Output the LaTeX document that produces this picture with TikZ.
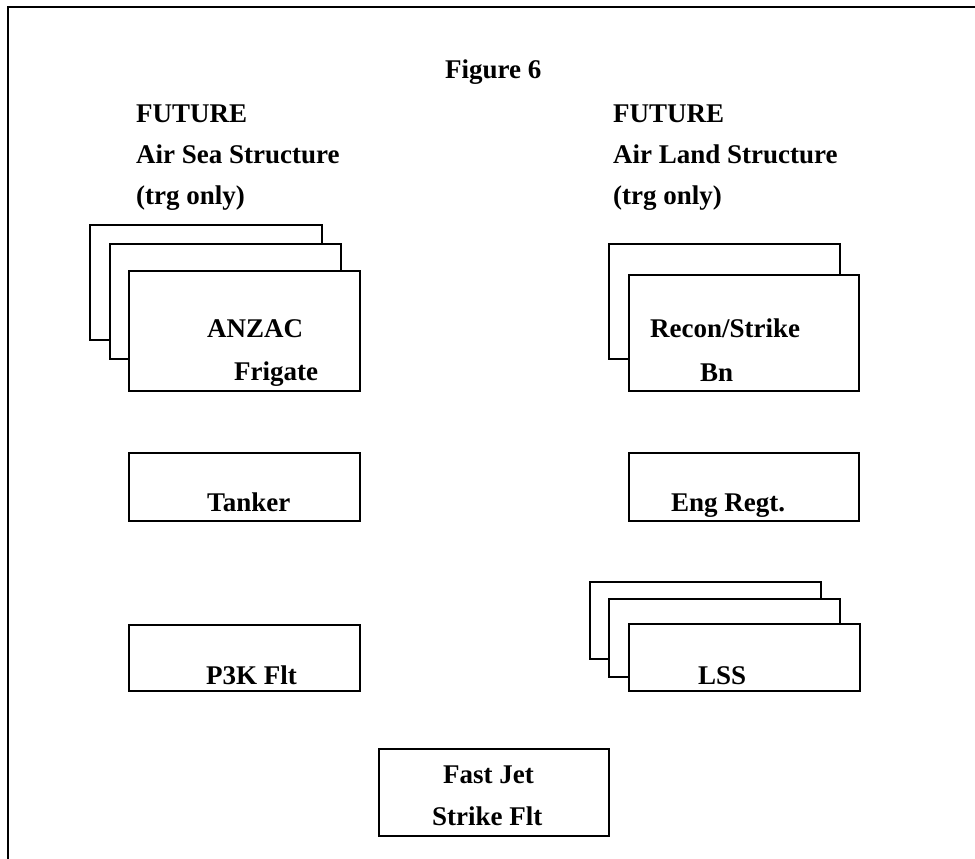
\documentclass[tikz,border=0pt]{standalone}
\usepackage{fontspec}
\setmainfont{Liberation Serif}
\usepackage{tikz}
\usetikzlibrary{positioning,calc}

\begin{document}
\begin{tikzpicture}[x=1pt,y=-1pt,every node/.style={font=\bfseries\fontsize{27}{30}\selectfont},box/.style={draw,fill=white,line width=1.7pt,anchor=north west,inner sep=0pt},lbl/.style={anchor=base west,inner sep=0pt}]
\useasboundingbox (0,0) rectangle (975,859);
\draw[line width=2.4pt](8,859)--(8,7)--(975,7);
\node[lbl](fig) at (445,78){Figure 6};
\node[lbl](seaA) at (136,122){FUTURE}; \node[lbl](seaB) at (136,163){Air Sea Structure}; \node[lbl](seaC) at (136,204){(trg only)};
\node[lbl](landA) at (613,122){FUTURE}; \node[lbl](landB) at (613,163){Air Land Structure}; \node[lbl](landC) at (613,204){(trg only)};
% sea side
\node[box,minimum width=232,minimum height=115](anzac3) at (89,224){}; \node[box,minimum width=231,minimum height=115](anzac2) at (109,243){};
\node[box,minimum width=231,minimum height=120](anzac) at (128,270){};
\node[lbl](anzacA) at (207,337){ANZAC}; \node[lbl](anzacB) at (234,380){Frigate};
\node[box,minimum width=231,minimum height=68](tank) at (128,452){}; \node[lbl](tankA) at (207,511){Tanker};
\node[box,minimum width=231,minimum height=66](p3k) at (128,624){}; \node[lbl](p3kA) at (206,684){P3K Flt};
% land side
\node[box,minimum width=231,minimum height=115](recon2) at (608,243){};
\node[box,minimum width=230,minimum height=116](recon) at (628,274){};
\node[lbl](reconA) at (650,337){Recon/Strike}; \node[lbl](reconB) at (700,381){Bn};
\node[box,minimum width=230,minimum height=68](eng) at (628,452){}; \node[lbl](engA) at (671,511){Eng Regt.};
\node[box,minimum width=231,minimum height=77](lss3) at (589,581){}; \node[box,minimum width=231,minimum height=78](lss2) at (608,598){};
\node[box,minimum width=231,minimum height=67](lss) at (628,623){}; \node[lbl](lssA) at (698,684){LSS};
% bottom
\node[box,minimum width=230,minimum height=87](jet) at (378,748){};
\node[lbl](jetA) at (443,783){Fast Jet}; \node[lbl](jetB) at (432,825){Strike Flt};
\end{tikzpicture}
\end{document}
